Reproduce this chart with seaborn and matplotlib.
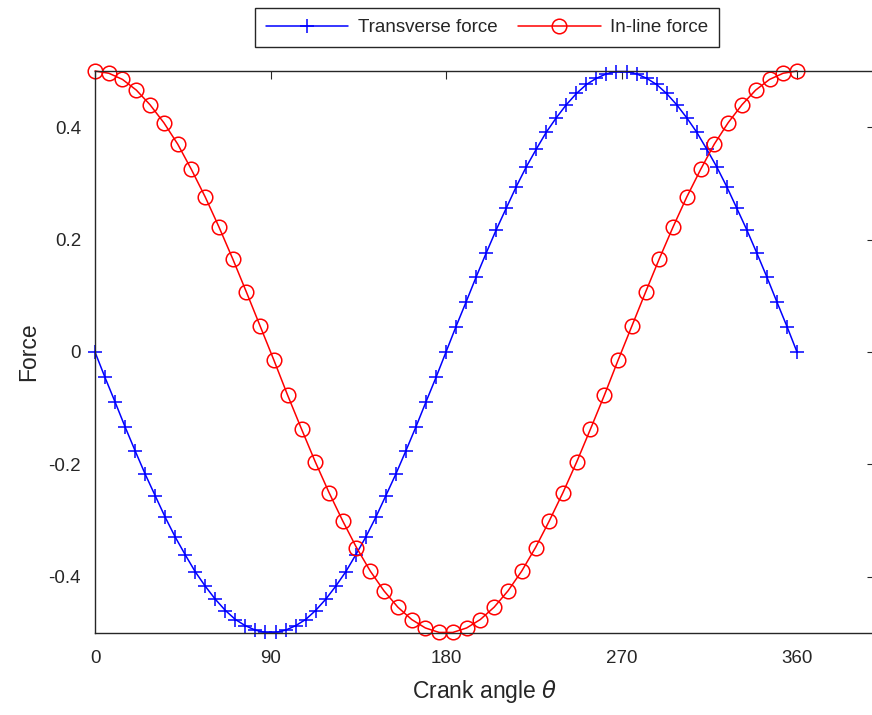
import numpy as np
import pandas as pd
import seaborn as sns
import matplotlib
matplotlib.use('Agg')
import matplotlib.pyplot as plt

# Data

transverse_angle = [0.0, 5.1, 10.3, 15.4, 20.6, 25.7, 30.9, 36.0, 41.1, 46.3,
                    51.4, 56.6, 61.7, 66.9, 72.0, 77.1, 82.3, 87.4, 92.6, 97.7,
                    102.9, 108.0, 113.1, 118.3, 123.4, 128.6, 133.7, 138.9, 144.0, 149.1,
                    154.3, 159.4, 164.6, 169.7, 174.9, 180.0, 185.1, 190.3, 195.4, 200.6,
                    205.7, 210.9, 216.0, 221.1, 226.3, 231.4, 236.6, 241.7, 246.9, 252.0,
                    257.1, 262.3, 267.4, 272.6, 277.7, 282.9, 288.0, 293.1, 298.3, 303.4,
                    308.6, 313.7, 318.9, 324.0, 329.1, 334.3, 339.4, 344.6, 349.7, 354.9,
                    360.0]
transverse_force = [0.0, -0.045, -0.089, -0.133, -0.176, -0.217, -0.256, -0.294, -0.329, -0.361,
                    -0.391, -0.417, -0.440, -0.460, -0.476, -0.487, -0.495, -0.499, -0.499, -0.495,
                    -0.487, -0.476, -0.460, -0.440, -0.417, -0.391, -0.361, -0.329, -0.294, -0.256,
                    -0.217, -0.176, -0.133, -0.089, -0.045, 0.0, 0.045, 0.089, 0.133, 0.176,
                    0.217, 0.256, 0.294, 0.329, 0.361, 0.391, 0.417, 0.440, 0.460, 0.476,
                    0.487, 0.495, 0.499, 0.499, 0.495, 0.487, 0.476, 0.460, 0.440, 0.417,
                    0.391, 0.361, 0.329, 0.294, 0.256, 0.217, 0.176, 0.133, 0.089, 0.045,
                    0.0]

inline_angle = [0.0, 7.1, 14.1, 21.2, 28.2, 35.3, 42.4, 49.4, 56.5, 63.5,
                70.6, 77.6, 84.7, 91.8, 98.8, 105.9, 112.9, 120.0, 127.1, 134.1,
                141.2, 148.2, 155.3, 162.4, 169.4, 176.5, 183.5, 190.6, 197.6, 204.7,
                211.8, 218.8, 225.9, 232.9, 240.0, 247.1, 254.1, 261.2, 268.2, 275.3,
                282.4, 289.4, 296.5, 303.5, 310.6, 317.6, 324.7, 331.8, 338.8, 345.9,
                352.9, 360.0]
inline_force = [0.5, 0.496, 0.485, 0.466, 0.440, 0.408, 0.370, 0.325, 0.276, 0.223,
                0.166, 0.107, 0.046, -0.015, -0.077, -0.137, -0.195, -0.250, -0.301, -0.348,
                -0.390, -0.425, -0.454, -0.476, -0.491, -0.499, -0.499, -0.491, -0.476, -0.454,
                -0.425, -0.390, -0.348, -0.301, -0.250, -0.195, -0.137, -0.077, -0.015, 0.046,
                0.107, 0.166, 0.223, 0.276, 0.325, 0.370, 0.408, 0.440, 0.466, 0.485,
                0.496, 0.5]

x_ticks = [0, 90, 180, 270, 360]
y_ticks = [-0.4, -0.2, 0, 0.2, 0.4]
y_tick_labels = ['-0.4', '-0.2', '0', '0.2', '0.4']

# Style

sns.set_style('white')
plt.rcParams['font.family'] = ['Liberation Sans', 'DejaVu Sans']
plt.rcParams['text.color'] = '#262626'
plt.rcParams['axes.labelcolor'] = '#262626'

fig = plt.figure(figsize=(8.72, 7.15), dpi=100)
ax = fig.add_axes([95 / 872, 82 / 715, 780 / 872, 562 / 715])

# Plot the two forces

sns.lineplot(x=transverse_angle, y=transverse_force, ax=ax, color='blue',
             marker='+', markersize=10, markeredgecolor='blue', markeredgewidth=1.1,
             linewidth=1.1, label='Transverse force', sort=False, clip_on=False)
sns.lineplot(x=inline_angle, y=inline_force, ax=ax, color='red',
             marker='o', markersize=10.5, markerfacecolor='none', markeredgecolor='red',
             markeredgewidth=1.1, linewidth=1.1, label='In-line force', sort=False,
             clip_on=False)

ax.set_xlim(0, 400)
ax.set_ylim(-0.5, 0.5)
ax.set_xticks(x_ticks)
ax.set_yticks(y_ticks)
ax.set_yticklabels(y_tick_labels)
ax.tick_params(direction='in', length=6, width=0.8, colors='#262626',
               labelsize=13.5, top=True, right=True, pad=10)
ax.tick_params(axis='x', pad=12)
for s in ax.spines.values():
    s.set_color('#262626')
    s.set_linewidth(1)

ax.set_xlabel(r'Crank angle $\theta$', fontsize=16.5, labelpad=8)
ax.set_ylabel('Force', fontsize=16.5, labelpad=6)

leg = ax.legend(loc='center', bbox_to_anchor=(392 / 780, 1 + 43.5 / 562), ncol=2,
                fontsize=13.5, frameon=True, fancybox=False, framealpha=1,
                edgecolor='#262626', borderpad=0.6, handlelength=4.4,
                columnspacing=1.1, handletextpad=0.5)
leg.get_frame().set_linewidth(1)

fig.savefig('out.png', dpi=100)
